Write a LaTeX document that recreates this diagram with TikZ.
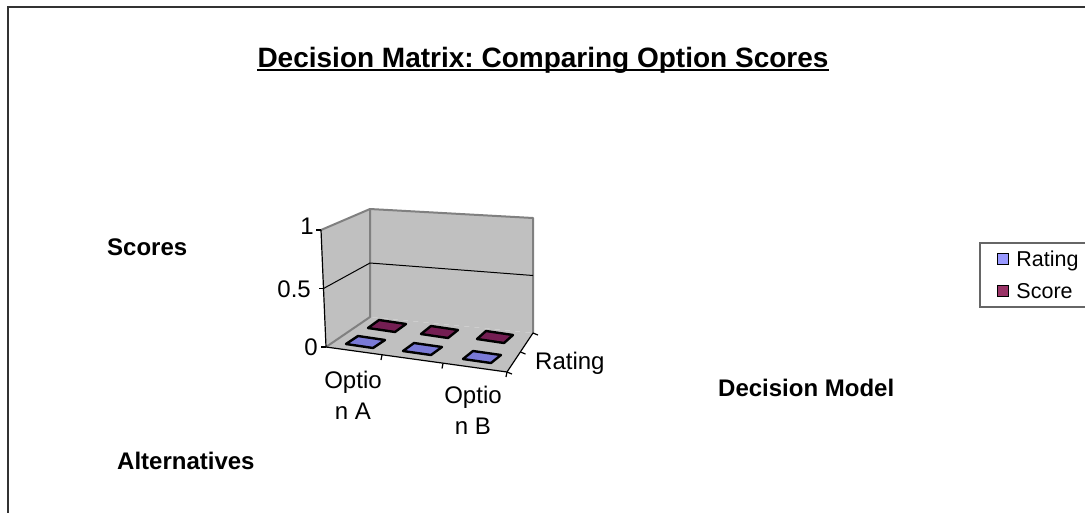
\documentclass[tikz,border=0pt]{standalone}
\usepackage{fontspec}
\setmainfont{Liberation Sans}
\frenchspacing
\usetikzlibrary{positioning}

\definecolor{wallgray}{RGB}{192,192,192}
\definecolor{edgegray}{RGB}{128,128,128}
\definecolor{ratingbar}{RGB}{122,122,214}
\definecolor{scorebar}{RGB}{116,30,82}
\definecolor{ratingkey}{RGB}{153,153,255}
\definecolor{scorekey}{RGB}{153,51,102}

\begin{document}
\begin{tikzpicture}[x=1pt, y=-1pt,
wall/.style={fill=wallgray},
walledge/.style={draw=edgegray, line width=2pt, line join=round},
axisline/.style={draw=black, line width=1.2pt},
gridline/.style={draw=black, line width=1pt},
barface/.style={draw=black, line width=2.4pt, line join=round},
titletext/.style={inner sep=0pt, font=\fontsize{28}{32}\selectfont\bfseries},
ticklabel/.style={inner sep=0pt, font=\fontsize{24}{28}\selectfont},
axistitle/.style={inner sep=0pt, font=\fontsize{24}{28}\selectfont\bfseries},
catlabel/.style={inner sep=0pt, align=center, font=\fontsize{24}{31}\selectfont},
legkey/.style={draw=black, line width=1.5pt, minimum size=11pt, inner sep=0pt},
legtext/.style={inner sep=0pt, text height=16pt, text depth=4pt, font=\fontsize{21.5}{24}\selectfont},
]
\useasboundingbox (0,0) rectangle (1085,512);

%Frame
\draw[black!80, line width=2pt] (8,7) rectangle (1110,540);

%Chart corners
\coordinate (ftl) at (321,230);
\coordinate (fbl) at (326,347);
\coordinate (btl) at (370,209);
\coordinate (bbl) at (370,317);
\coordinate (btr) at (533,218);
\coordinate (bbr) at (533,333);
\coordinate (fbr) at (507,372);

%Walls and floor
\fill[wall] (ftl) -- (btl) -- (bbl) -- (fbl) -- cycle;
\fill[wall] (btl) -- (btr) -- (bbr) -- (bbl) -- cycle;
\fill[wall] (fbl) -- (bbl) -- (bbr) -- (fbr) -- cycle;
\draw[walledge] (ftl) -- (btl) -- (btr) -- (bbr);
\draw[walledge] (btl) -- (bbl) -- (fbl);

%Gridline at 0.5
\coordinate (gl) at (323.5,288.5);
\coordinate (gm) at (370,263);
\coordinate (gr) at (533,275.5);
\draw[gridline] (gl) -- (gm) -- (gr);

%Axes
\draw[axisline] (ftl) -- (fbl) -- (fbr) -- (bbr);
\draw[axisline] (ftl) -- +(-5,0);
\draw[axisline] (gl) -- +(-5,0);
\draw[axisline] (fbl) -- +(-5,0);
\coordinate (ca) at (382,355);
\coordinate (cb) at (443,363.5);
\coordinate (dm) at (520.5,352);
\draw[axisline] (ca) -- +(-1,5);
\draw[axisline] (cb) -- +(-1,5);
\draw[axisline] (fbr) -- +(-1,5);
\draw[axisline] (fbr) -- +(5,2);
\draw[axisline] (dm) -- +(5,2);
\draw[axisline] (bbr) -- +(5,2);

%Bars (all zero)
\draw[barface, fill=scorebar] (368,328) -- ++(27,4) -- ++(11,-8) -- ++(-27,-4) -- cycle;
\draw[barface, fill=scorebar] (421,334) -- ++(27,4) -- ++(10,-8) -- ++(-27,-4) -- cycle;
\draw[barface, fill=scorebar] (477,339) -- ++(27,4) -- ++(9,-8) -- ++(-27,-4) -- cycle;
\draw[barface, fill=ratingbar] (346,344) -- ++(27,4) -- ++(12,-8) -- ++(-27,-4) -- cycle;
\draw[barface, fill=ratingbar] (403,351) -- ++(28,4) -- ++(11,-8) -- ++(-28,-4) -- cycle;
\draw[barface, fill=ratingbar] (463,359) -- ++(28,4) -- ++(10,-8) -- ++(-28,-4) -- cycle;

%Title
\node[titletext, anchor=base] (title) at (543,67) {Decision Matrix: Comparing Option Scores};
\draw[line width=2pt] ([yshift=-3pt]title.base west) -- ([yshift=-3pt]title.base east);

%Axis labels
\node[ticklabel, anchor=east] (vone) at (314,226) {1};
\node[ticklabel, anchor=east] (vhalf) at (311,289) {0.5};
\node[ticklabel, anchor=east] (vzero) at (318,347) {0};
\node[catlabel, anchor=north] (optiona) at (353,371) {Optio\\n A};
\node[catlabel, anchor=north] (optionb) at (473,386) {Optio\\n B};
\node[ticklabel, anchor=base west] (depthlabel) at (535,369) {Rating};
\node[axistitle, anchor=base west] (scores) at (107,255) {Scores};
\node[axistitle, anchor=base west] (alternatives) at (117,469) {Alternatives};
\node[axistitle, anchor=base west] (model) at (718,396) {Decision Model};

%Legend
\draw[black!60, line width=1.2pt] (980,243) rectangle (1110,307);
\node[legkey, fill=ratingkey] (ratingkey) at (1003,259) {};
\node[legkey, fill=scorekey] (scorekey) at (1003,291) {};
\node[legtext, right=7pt of ratingkey, yshift=-1.5pt] (ratinglabel) {Rating};
\node[legtext, right=7pt of scorekey, yshift=-1.5pt] (scorelabel) {Score};
\end{tikzpicture}
\end{document}
